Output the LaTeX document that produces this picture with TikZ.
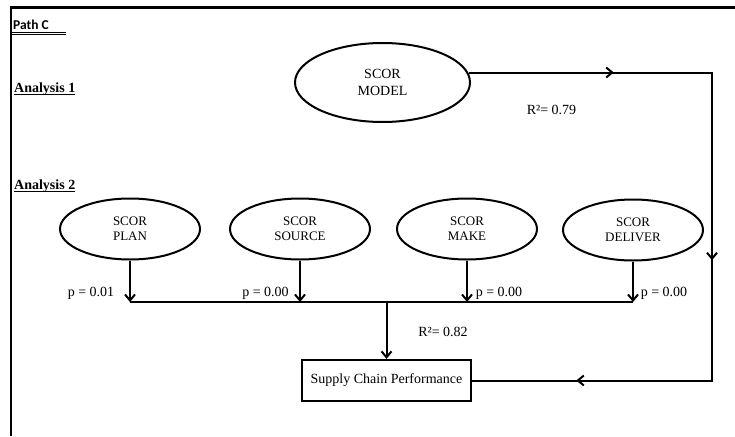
\documentclass[tikz,border=0pt]{standalone}
\usepackage{fontspec}
\setmainfont{Liberation Serif}
\newfontfamily\calibri{Carlito}
\usetikzlibrary{shapes.geometric,arrows.meta,decorations.markings}

\begin{document}
\begin{tikzpicture}[x=1pt,y=-1pt,
  >={Straight Barb[length=6pt,width=10pt]},
  link/.style={line width=2pt},
  construct/.style={ellipse, draw, line width=2pt, minimum width=140pt,
    minimum height=61pt, inner sep=0pt, align=center,
    font=\fontsize{13}{15}\selectfont},
  outcome/.style={draw, line width=2.2pt, minimum width=169pt,
    minimum height=41pt, inner sep=0pt, font=\fontsize{14}{17}\selectfont},
  heading/.style={anchor=base west, inner sep=0pt,
    font=\fontsize{14}{17}\selectfont\bfseries},
  stat/.style={anchor=base, inner sep=0pt, font=\fontsize{14}{17}\selectfont},
  looparrows/.style={postaction={decorate}, decoration={markings,
    mark=at position 145pt with {\arrow{Straight Barb[length=6pt,width=10pt]}},
    mark=at position 431pt with {\arrow{Straight Barb[length=6pt,width=10pt]}},
    mark=at position 687pt with {\arrow{Straight Barb[length=6pt,width=10pt]}}}}
]
\useasboundingbox (0,0) rectangle (735,436);

% frame
\draw[line width=2.2pt] (11,436) -- (11,7.5) -- (735,7.5);

% headings
\node[anchor=base west, inner sep=0pt, font=\calibri\fontsize{13.5}{16}\selectfont\bfseries]
  (pathc) at (13,29.5) {Path C};
\draw[line width=1pt] ([yshift=-2.8pt]pathc.base west) ++(-1,0) -- ++(54,0);
\draw[line width=1pt] ([yshift=-5pt]pathc.base west) ++(-1,0) -- ++(54,0);

\node[heading] (an1) at (14,92) {Analysis 1};
\draw[line width=1.2pt] ([yshift=-2.5pt]an1.base west) -- ([yshift=-2.5pt]an1.base east);
\node[heading] (an2) at (14,189) {Analysis 2};
\draw[line width=1.2pt] ([yshift=-2.5pt]an2.base west) -- ([yshift=-2.5pt]an2.base east);

% constructs
\node[construct, minimum width=175pt, minimum height=79pt,
  font=\fontsize{14}{17}\selectfont] (model) at (382.5,82.5) {SCOR\\MODEL};
\node[construct] (plan) at (130,229) {SCOR\\PLAN};
\node[construct] (source) at (300,229) {SCOR\\SOURCE};
\node[construct] (make) at (467,229) {SCOR\\MAKE};
\node[construct] (deliver) at (633,230) {SCOR\\DELIVER};

\node[outcome] (scp) at (386.5,380.5) {Supply Chain Performance};

% path for analysis 1
\coordinate (tr) at (712,72.5);
\coordinate (br) at (712,380.5);
\draw[link, line join=miter, looparrows] (model.6.7 |- tr) -- (tr) -- (br) -- (scp.east);
\node[stat] (r1) at (551.5,114) {R²= 0.79};

% paths for analysis 2
\coordinate (busL) at (130,302);
\coordinate (busR) at (633,302);
\draw[link] (busL) -- (busR);
\draw[link,->] (plan.south) -- (plan.south |- busL);
\draw[link,->] (source.south) -- (source.south |- busL);
\draw[link,->] (make.south) -- (make.south |- busL);
\draw[link,->] (deliver.south) -- (deliver.south |- busL);
\draw[link,->] (scp.north |- busL) -- (scp.north);

\node[stat] (p1) at (91,296) {p = 0.01};
\node[stat] (p2) at (265.5,296) {p = 0.00};
\node[stat] (p3) at (499,296) {p = 0.00};
\node[stat] (p4) at (664,296) {p = 0.00};
\node[stat] (r2) at (443,336) {R²= 0.82};
\end{tikzpicture}
\end{document}
